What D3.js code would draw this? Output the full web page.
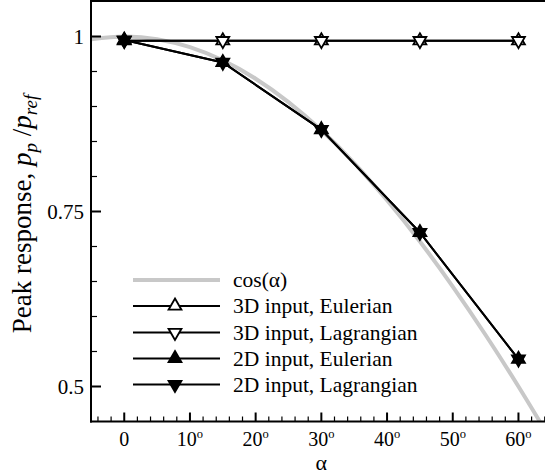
<!DOCTYPE html>
<html>
<head>
<meta charset="utf-8">
<script src="https://cdn.jsdelivr.net/npm/d3@7/dist/d3.min.js"></script>
<style>
  html, body { margin: 0; padding: 0; background: #fff; }
  svg { display: block; }
  text { font-family: "Liberation Serif", "DejaVu Serif", serif; fill: #000; }
</style>
</head>
<body>
<svg id="chart" width="545" height="475"></svg>
<script>
// Incidence angle (degrees) of the computed cases
const angles = [0, 15, 30, 45, 60];
// Normalised peak response p_p / p_ref for each input / formulation
const eulerian3D   = [0.994, 0.994, 0.994, 0.994, 0.994];
const lagrangian3D = [0.994, 0.994, 0.994, 0.994, 0.994];
const eulerian2D   = [0.995, 0.963, 0.867, 0.720, 0.539];
const lagrangian2D = [0.995, 0.963, 0.867, 0.720, 0.539];
// Reference curve cos(alpha), tabulated every 5 degrees
const cosAngles = [-5, 0, 5, 10, 15, 20, 25, 30, 35, 40, 45, 50, 55, 60, 65];
const cosValues = [0.9962, 1.0, 0.9962, 0.9848, 0.9659, 0.9397, 0.9063, 0.8660,
                   0.8192, 0.7660, 0.7071, 0.6428, 0.5736, 0.5000, 0.4226];
// Axis tick labels
const xTicks = [0, 10, 20, 30, 40, 50, 60];
const yTicks = [0.5, 0.75, 1];
const legendLabels = ["cos(\u03B1)", "3D input, Eulerian", "3D input, Lagrangian",
                      "2D input, Eulerian", "2D input, Lagrangian"];

const svg = d3.select("#chart");
const plotLeft = 91, plotRight = 545, plotTop = 1.5, plotBottom = 421.5;

const x = d3.scaleLinear().domain([-5.06, 64.04]).range([plotLeft, plotRight]);
const y = d3.scaleLinear().domain([0.45, 1.05]).range([plotBottom, plotTop]);

svg.append("defs").append("clipPath").attr("id", "plotClip")
  .append("rect").attr("x", plotLeft).attr("y", plotTop)
  .attr("width", plotRight - plotLeft).attr("height", plotBottom - plotTop);

const plot = svg.append("g").attr("clip-path", "url(#plotClip)");

// cos(alpha) reference curve
plot.append("path")
  .datum(cosAngles.map((a, i) => [a, cosValues[i]]))
  .attr("fill", "none").attr("stroke", "#c8c8c8").attr("stroke-width", 4)
  .attr("d", d3.line().x(d => x(d[0])).y(d => y(d[1])).curve(d3.curveNatural));

const tri = d3.symbol().type(d3.symbolTriangle).size(72);
function markers(g, vals, filled, down) {
  g.selectAll(null).data(angles.map((a, i) => [a, vals[i]])).join("path")
    .attr("d", tri)
    .attr("transform", d => `translate(${x(d[0])},${y(d[1])})` + (down ? " rotate(180)" : ""))
    .attr("fill", filled ? "#000" : "#fff")
    .attr("stroke", "#000").attr("stroke-width", 1.8).attr("stroke-linejoin", "miter");
}
const series = [
  { vals: eulerian3D, filled: false, down: false },
  { vals: lagrangian3D, filled: false, down: true },
  { vals: eulerian2D, filled: true, down: false },
  { vals: lagrangian2D, filled: true, down: true }
];
const line = d3.line().x(d => x(d[0])).y(d => y(d[1]));
series.forEach(s => {
  plot.append("path").datum(angles.map((a, i) => [a, s.vals[i]]))
    .attr("fill", "none").attr("stroke", "#000").attr("stroke-width", 2)
    .attr("d", line);
});
series.forEach(s => markers(plot.append("g"), s.vals, s.filled, s.down));

// Axes frame
svg.append("line").attr("x1", plotLeft).attr("x2", plotLeft).attr("y1", 0).attr("y2", plotBottom + 1)
  .attr("stroke", "#000").attr("stroke-width", 2);
svg.append("line").attr("x1", plotLeft - 1).attr("x2", plotRight).attr("y1", plotBottom).attr("y2", plotBottom)
  .attr("stroke", "#000").attr("stroke-width", 2);
svg.append("line").attr("x1", plotLeft - 1).attr("x2", plotRight).attr("y1", 1).attr("y2", 1)
  .attr("stroke", "#000").attr("stroke-width", 2);

// x ticks: majors every 10 deg, minors every 2 deg, drawn inward
const xAxis = svg.append("g");
d3.range(-4, 65, 2).forEach(v => {
  const major = v % 10 === 0;
  xAxis.append("line").attr("x1", x(v)).attr("x2", x(v))
    .attr("y1", plotBottom).attr("y2", plotBottom - (major ? 9 : 5))
    .attr("stroke", "#000").attr("stroke-width", major ? 2 : 1.2);
});
xTicks.forEach(v => {
  const t = xAxis.append("text").attr("x", x(v)).attr("y", 445.5)
    .attr("text-anchor", "middle").attr("font-size", 20);
  t.append("tspan").text(v);
  if (v !== 0) t.append("tspan").attr("dy", -8).attr("font-size", 12.5).text("o");
});
svg.append("text").attr("x", x(30)).attr("y", 470).attr("text-anchor", "middle")
  .attr("font-size", 22).text("\u03B1");

// y ticks: majors every 0.25, minors every 0.05
const yAxis = svg.append("g");
d3.range(0.5, 1.0001, 0.05).forEach(v => {
  const major = Math.abs((v * 4) - Math.round(v * 4)) < 1e-6;
  yAxis.append("line").attr("x1", plotLeft).attr("x2", plotLeft + (major ? 10 : 6))
    .attr("y1", y(v)).attr("y2", y(v))
    .attr("stroke", "#000").attr("stroke-width", major ? 2 : 1.2);
});
yTicks.forEach(v => {
  yAxis.append("text").attr("x", 84).attr("y", y(v) + 7).attr("text-anchor", "end")
    .attr("font-size", 21).text(v);
});

// y axis title
const yt = svg.append("text").attr("transform", "translate(31,214) rotate(-90)")
  .attr("text-anchor", "middle").attr("font-size", 27);
yt.append("tspan").text("Peak response, ");
yt.append("tspan").attr("font-style", "italic").text("p");
yt.append("tspan").attr("font-style", "italic").attr("font-size", 19).attr("dy", 6).text("p");
yt.append("tspan").attr("dy", -6).text(" /");
yt.append("tspan").attr("font-style", "italic").text("p");
yt.append("tspan").attr("font-style", "italic").attr("font-size", 19).attr("dy", 6).text("ref");

// Legend
const legend = svg.append("g");
const rowY = [280, 306, 332.5, 358.5, 384.5];
const lx0 = 133, lx1 = 220, lmx = 175;
legend.append("line").attr("x1", lx0).attr("x2", lx1).attr("y1", rowY[0]).attr("y2", rowY[0])
  .attr("stroke", "#c8c8c8").attr("stroke-width", 4);
series.forEach((s, i) => {
  const ry = rowY[i + 1];
  legend.append("line").attr("x1", lx0).attr("x2", lx1).attr("y1", ry).attr("y2", ry)
    .attr("stroke", "#000").attr("stroke-width", 2);
  legend.append("path").attr("d", tri)
    .attr("transform", `translate(${lmx},${ry})` + (s.down ? " rotate(180)" : ""))
    .attr("fill", s.filled ? "#000" : "#fff").attr("stroke", "#000").attr("stroke-width", 1.8);
});
legendLabels.forEach((t, i) => {
  legend.append("text").attr("x", 233).attr("y", rowY[i] + 7).attr("font-size", 21.5).text(t);
});
</script>
</body>
</html>
